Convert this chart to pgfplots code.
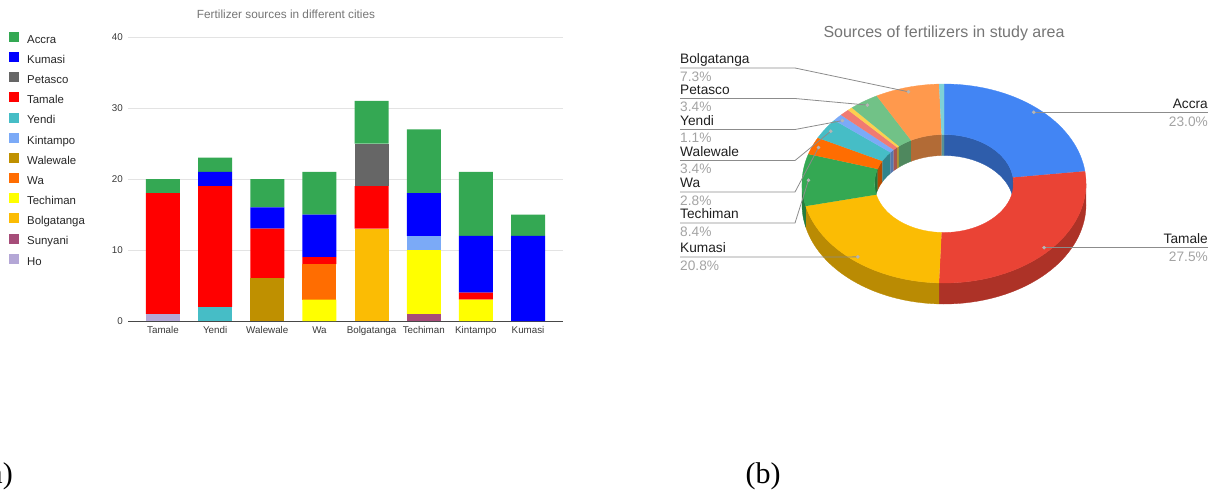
\documentclass[border=0pt]{standalone}
\usepackage{pgfplots}
\usepackage{pgfplotstable}
\pgfplotsset{compat=1.18}
\usepackage{fontspec}
\setmainfont{Liberation Sans}
\newfontfamily\capfont{Liberation Serif}

% bar chart colours
\definecolor{cAccra}{HTML}{34A853}
\definecolor{cKumasi}{HTML}{0000FF}
\definecolor{cPetasco}{HTML}{666666}
\definecolor{cTamale}{HTML}{FF0000}
\definecolor{cYendi}{HTML}{46BDC6}
\definecolor{cKintampo}{HTML}{7BAAF7}
\definecolor{cWalewale}{HTML}{BF9000}
\definecolor{cWa}{HTML}{FF6D01}
\definecolor{cTechiman}{HTML}{FFFF00}
\definecolor{cBolga}{HTML}{FBBC04}
\definecolor{cSunyani}{HTML}{A64D79}
\definecolor{cHo}{HTML}{B4A7D6}
% pie colours
\definecolor{pAccra}{HTML}{4285F4}
\definecolor{pTamale}{HTML}{EA4335}
\definecolor{pKumasi}{HTML}{FBBC04}
\definecolor{pTechiman}{HTML}{34A853}
\definecolor{pWa}{HTML}{FF6D01}
\definecolor{pWalewale}{HTML}{46BDC6}
\definecolor{pYendi}{HTML}{7BAAF7}
\definecolor{pKintampo}{HTML}{F07B72}
\definecolor{pSunyani}{HTML}{FCD04F}
\definecolor{pPetasco}{HTML}{71C287}
\definecolor{pBolga}{HTML}{FF994D}
\definecolor{pHo}{HTML}{7ED1D7}
\definecolor{txtgray}{HTML}{757575}
\definecolor{pctgray}{HTML}{A3A3A3}
\definecolor{linegray}{HTML}{8C8C8C}
\definecolor{dotgray}{HTML}{B5B5B5}

% stacked bars: city index x, one column per source (bottom to top)
\pgfplotstableread{
x Ho Sunyani Bolgatanga Techiman Wa Walewale Kintampo Yendi Tamale Petasco Kumasi Accra
0 1 0 0  0 0 0 0 0 17 0 0  2
1 0 0 0  0 0 0 0 2 17 0 2  2
2 0 0 0  0 0 6 0 0 7  0 3  4
3 0 0 0  3 5 0 0 0 1  0 6  6
4 0 0 13 0 0 0 0 0 6  6 0  6
5 0 1 0  9 0 0 2 0 0  0 6  9
6 0 0 0  3 0 0 0 0 1  0 8  9
7 0 0 0  0 0 0 0 0 0  0 12 3
}\bardata

% donut: count/colour per source (clockwise from top), total 178
\def\pielist{41/pAccra,49/pTamale,37/pKumasi,15/pTechiman,5/pWa,6/pWalewale,2/pYendi,2/pKintampo,1/pSunyani,6/pPetasco,13/pBolga,1/pHo}
% count / label side / leader line y (px from top)
\def\labellist{41/R/0,49/R/0,37/L/257,15/L/223,5/L/192,6/L/160.5,2/L/129.5,2/N/0,1/N/0,6/L/98.5,13/L/68,1/N/0}
\def\TOT{178}

\def\CX{944}\def\CY{-183.5}
\def\ROX{142}\def\ROY{99.5}
\def\RIX{69.5}\def\RIY{49}
\def\DEP{21}

% #1 a, #2 b (fractions), #3,#4 radii arc 1, #5 offset arc 1, #6,#7 radii arc 2, #8 offset arc 2, #9 colour
\newcommand\piece[9]{%
  \edef\temp{\noexpand\addplot[fill=#9, draw=#9, line width=0.3pt,
      samples at={0,1,...,101}, variable=\noexpand\t]
   ({\CX+ifthenelse(\noexpand\t<51,#3*sin(360*(#1+(#2-#1)*\noexpand\t/50)),#6*sin(360*(#2-(#2-#1)*(\noexpand\t-51)/50)))},
    {\CY+ifthenelse(\noexpand\t<51,#4*cos(360*(#1+(#2-#1)*\noexpand\t/50))+(#5),#7*cos(360*(#2-(#2-#1)*(\noexpand\t-51)/50))+(#8))});}%
  \temp}

\begin{document}
\begin{tikzpicture}
\useasboundingbox (0pt,-496pt) rectangle (1217pt,0pt);

% ---------------- (a) stacked bar chart ----------------
\begin{axis}[
  at={(128pt,-321pt)}, anchor=south west,
  scale only axis, width=435pt, height=284pt,
  ybar stacked, bar width=34pt,
  xmin=-0.671, xmax=7.67, ymin=0, ymax=40,
  xtick={0,...,7},
  xticklabels={Tamale,Yendi,Walewale,Wa,Bolgatanga,Techiman,Kintampo,Kumasi},
  ytick={0,10,20,30,40},
  ymajorgrids, grid style={draw=black!11, line width=0.9pt},
  axis line style={draw=none},
  major tick length=0pt,
  /pgf/number format/assume math mode=true,
  tick label style={font=\fontsize{9.8}{11}\selectfont, text=black!78},
  yticklabel style={inner sep=0pt, xshift=-5pt},
  xticklabel style={inner sep=0pt, yshift=-5.5pt},
  reverse legend,
  legend cell align=left,
  legend style={at={(-0.2736,1.0182)}, anchor=north west, draw=none, fill=none,
     inner sep=0pt, font=\fontsize{11.4}{13}\selectfont, text=black!85,
     row sep=6.3pt, column sep=8pt,
     nodes={inner sep=0pt, text height=7pt, text depth=2.5pt}},
  every axis plot post/.append style={legend image code/.code={\fill[##1] (0pt,-0.9pt) rectangle (10pt,9.1pt);}},
]
\addplot[fill=cHo, draw=none] table[x=x, y=Ho] {\bardata}; \addlegendentry{Ho}
\addplot[fill=cSunyani, draw=none] table[x=x, y=Sunyani] {\bardata}; \addlegendentry{Sunyani}
\addplot[fill=cBolga, draw=none] table[x=x, y=Bolgatanga] {\bardata}; \addlegendentry{Bolgatanga}
\addplot[fill=cTechiman, draw=none] table[x=x, y=Techiman] {\bardata}; \addlegendentry{Techiman}
\addplot[fill=cWa, draw=none] table[x=x, y=Wa] {\bardata}; \addlegendentry{Wa}
\addplot[fill=cWalewale, draw=none] table[x=x, y=Walewale] {\bardata}; \addlegendentry{Walewale}
\addplot[fill=cKintampo, draw=none] table[x=x, y=Kintampo] {\bardata}; \addlegendentry{Kintampo}
\addplot[fill=cYendi, draw=none] table[x=x, y=Yendi] {\bardata}; \addlegendentry{Yendi}
\addplot[fill=cTamale, draw=none] table[x=x, y=Tamale] {\bardata}; \addlegendentry{Tamale}
\addplot[fill=cPetasco, draw=none] table[x=x, y=Petasco] {\bardata}; \addlegendentry{Petasco}
\addplot[fill=cKumasi, draw=none] table[x=x, y=Kumasi] {\bardata}; \addlegendentry{Kumasi}
\addplot[fill=cAccra, draw=none] table[x=x, y=Accra] {\bardata}; \addlegendentry{Accra}
\draw[black!72, line width=0.9pt] (rel axis cs:0,0) -- (rel axis cs:1,0);
\end{axis}
\node[font=\fontsize{11.8}{13}\selectfont, text=txtgray] at (286pt,-14pt) {Fertilizer sources in different cities};

% ---------------- (b) 3D donut ----------------
\begin{axis}[
  at={(0pt,-496pt)}, anchor=south west,
  scale only axis, width=1217pt, height=496pt,
  xmin=0, xmax=1217, ymin=-496, ymax=0,
  hide axis, clip=false,
]
% outer side wall (front half)
\gdef\cum{0}
\foreach \v/\c in \pielist {
  \pgfmathsetmacro\a{\cum/\TOT}
  \pgfmathsetmacro\b{(\cum+\v)/\TOT}
  \pgfmathsetmacro\aa{max(\a,0.25)}
  \pgfmathsetmacro\bb{min(\b,0.75)}
  \pgfmathtruncatemacro\ok{\bb>\aa}
  \ifnum\ok=1 \piece{\aa}{\bb}{\ROX}{\ROY}{0}{\ROX}{\ROY}{-\DEP}{\c!74!black}\fi
  \pgfmathsetmacro\newcum{\cum+\v}
  \xdef\cum{\newcum}
}
% inner wall (back half)
\gdef\cum{0}
\foreach \v/\c in \pielist {
  \pgfmathsetmacro\a{\cum/\TOT}
  \pgfmathsetmacro\b{(\cum+\v)/\TOT}
  \pgfmathsetmacro\aa{max(\a,0)}
  \pgfmathsetmacro\bb{min(\b,0.25)}
  \pgfmathtruncatemacro\ok{\bb>\aa}
  \ifnum\ok=1 \piece{\aa}{\bb}{\RIX}{\RIY}{0}{\RIX}{\RIY}{-\DEP}{\c!70!black}\fi
  \pgfmathsetmacro\aa{max(\a,0.75)}
  \pgfmathsetmacro\bb{min(\b,1)}
  \pgfmathtruncatemacro\ok{\bb>\aa}
  \ifnum\ok=1 \piece{\aa}{\bb}{\RIX}{\RIY}{0}{\RIX}{\RIY}{-\DEP}{\c!70!black}\fi
  \pgfmathsetmacro\newcum{\cum+\v}
  \xdef\cum{\newcum}
}
% top faces
\gdef\cum{0}
\foreach \v/\c in \pielist {
  \pgfmathsetmacro\a{\cum/\TOT}
  \pgfmathsetmacro\b{(\cum+\v)/\TOT}
  \piece{\a}{\b}{\ROX}{\ROY}{0}{\RIX}{\RIY}{0}{\c}
  \pgfmathsetmacro\newcum{\cum+\v}
  \xdef\cum{\newcum}
}
% leader lines and dots
\gdef\cum{0}
\foreach \v/\s/\ly in \labellist {
  \pgfmathsetmacro\m{(\cum+\v/2)/\TOT}
  \pgfmathsetmacro\dx{\CX+0.955*\ROX*sin(360*\m)}
  \pgfmathsetmacro\dy{\CY+0.955*\ROY*cos(360*\m)}
  \if\s L
    \edef\temp{\noexpand\addplot[draw=linegray, line width=0.8pt, mark=none] coordinates {(680,-\ly) (795,-\ly) (\dx,\dy)};}\temp
  \fi
  \if\s R
    \edef\temp{\noexpand\addplot[draw=linegray, line width=0.8pt, mark=none] coordinates {(\dx,\dy) (1208,\dy)};}\temp
  \fi
  \if\s N\else
    \edef\temp{\noexpand\addplot[only marks, color=dotgray, mark=*, mark size=1.6pt, mark options={draw=dotgray, fill=dotgray, solid}] coordinates {(\dx,\dy)};}\temp
  \fi
  \pgfmathsetmacro\newcum{\cum+\v}
  \xdef\cum{\newcum}
}
\end{axis}

\node[font=\fontsize{16}{18}\selectfont, text=txtgray] at (944pt,-33pt) {Sources of fertilizers in study area};
\begin{scope}[every node/.style={font=\fontsize{13.7}{15}\selectfont, inner sep=0pt}]
% left labels: name above line, percentage below
\foreach \n/\p/\ly in {Bolgatanga/7.3/68, Petasco/3.4/98.5, Yendi/1.1/129.5, Walewale/3.4/160.5, Wa/2.8/192, Techiman/8.4/223, Kumasi/20.8/257}{
  \node[anchor=base west, text=black!88] at (680pt,{-(\ly-4.1)*1pt}) {\n};
  \node[anchor=base west, text=pctgray] at (680pt,{-(\ly+13.4)*1pt}) {\p\%};
}
\foreach \n/\p/\ly in {Accra/23.0/113, Tamale/27.5/248}{
  \node[anchor=base east, text=black!88] at (1208pt,{-(\ly-4.1)*1pt}) {\n};
  \node[anchor=base east, text=pctgray] at (1208pt,{-(\ly+13.4)*1pt}) {\p\%};
}
\end{scope}

% panel captions
\node[font=\capfont\fontsize{30}{30}\selectfont, anchor=base east, inner sep=0pt] at (13pt,-483pt) {(a)};
\node[font=\capfont\fontsize{30}{30}\selectfont, anchor=base, inner sep=0pt] at (763pt,-483pt) {(b)};
\end{tikzpicture}
\end{document}
